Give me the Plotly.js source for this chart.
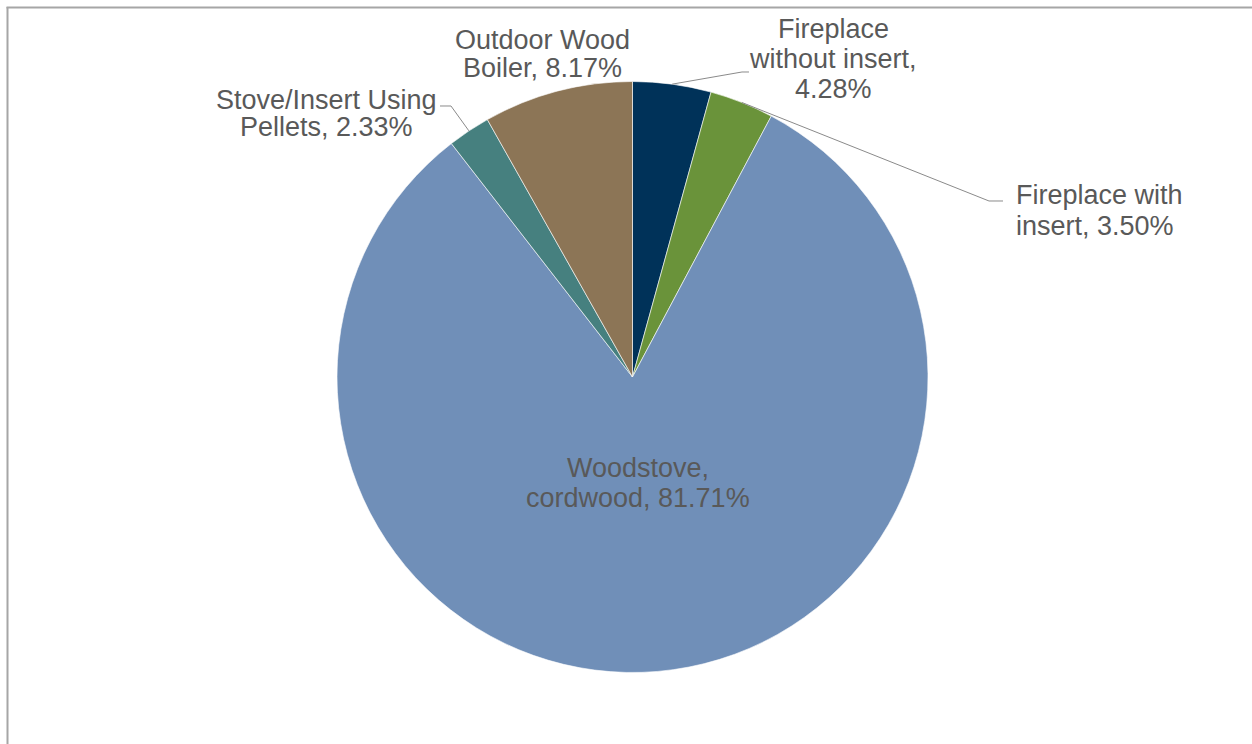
<!DOCTYPE html>
<html><head><meta charset="utf-8">
<script src="https://cdn.plot.ly/plotly-3.0.1.min.js"></script>
<style>html,body{margin:0;padding:0;background:#fff}#chart{width:1252px;height:744px}</style>
</head><body><div id="chart"></div>
<script>
const categories = ["Fireplace without insert", "Fireplace with insert", "Woodstove, cordwood", "Stove/Insert Using Pellets", "Outdoor Wood Boiler"];
const values = [4.28, 3.50, 81.71, 2.33, 8.17];
const labelLines = [
  ["Fireplace", "without insert,", "4.28%"],
  ["Fireplace with", "insert, 3.50%"],
  ["Woodstove,", "cordwood, 81.71%"],
  ["Stove/Insert Using", "Pellets, 2.33%"],
  ["Outdoor Wood", "Boiler, 8.17%"]
];
const colors = ["#003259", "#6a933a", "#708fb8", "#46807f", "#8c7556"];

const W = 1252, H = 744;
const cx = 632.5, cy = 377, r = 295.5;
const px = v => v / W, py = v => 1 - v / H;

// slice midpoint on rim, computed from data (clockwise from 12 o'clock)
const total = values.reduce((a, b) => a + b, 0);
let cum = 0;
const rim = values.map(v => {
  const mid = (cum + v / 2) / total * 2 * Math.PI;
  cum += v;
  return [cx + r * Math.sin(mid), cy - r * Math.cos(mid)];
});

const font = {family: "Liberation Sans, Arial, sans-serif", size: 27, color: "#595959"};
// label placement: x anchor and first-line center y, line step
const labelPos = [
  {x: 833, y: 29, step: 30, xanchor: "center"},
  {x: 1014, y: 195, step: 31, xanchor: "left"},
  {x: 638, y: 468, step: 29.5, xanchor: "center"},
  {x: 326, y: 99.5, step: 27.5, xanchor: "center"},
  {x: 542, y: 39.5, step: 29, xanchor: "center"}
];
const annotations = [];
labelLines.forEach((lines, i) => {
  const p = labelPos[i];
  lines.forEach((t, k) => {
    annotations.push({
      text: t, xref: "paper", yref: "paper", x: px(p.x), y: py(p.y + k * p.step),
      xanchor: p.xanchor, yanchor: "middle", align: p.xanchor === "left" ? "left" : "center",
      showarrow: false, font: font
    });
  });
});

// leader lines: text end -> knee -> slice rim
const leaders = [
  {idx: 0, pts: [[749, 72], [742, 72]]},
  {idx: 1, pts: [[1003, 201], [989, 201]]},
  {idx: 3, pts: [[440, 106], [451, 106]]}
];
const shapes = leaders.map(l => {
  const all = l.pts.concat([rim[l.idx]]);
  const path = all.map((p, k) => (k ? "L" : "M") + px(p[0]).toFixed(5) + "," + py(p[1]).toFixed(5)).join(" ");
  return {type: "path", xref: "paper", yref: "paper", path: path, line: {color: "#8a8a8a", width: 1}};
});
// frame
shapes.push({type: "line", xref: "paper", yref: "paper", x0: px(7.5), x1: px(7.5), y0: py(7), y1: 0, line: {color: "#a6a6a6", width: 2}});
shapes.push({type: "line", xref: "paper", yref: "paper", x0: px(6.5), x1: 1, y0: py(7.5), y1: py(7.5), line: {color: "#a6a6a6", width: 2}});

const data = [{
  type: "pie", labels: categories, values: values, sort: false, direction: "clockwise", rotation: 0,
  marker: {colors: colors, line: {color: "#ffffff", width: 0.6}},
  textinfo: "none", hoverinfo: "none",
  domain: {x: [px(cx - r), px(cx + r)], y: [py(cy + r), py(cy - r)]}
}];

const layout = {
  width: W, height: H, margin: {l: 0, r: 0, t: 0, b: 0},
  paper_bgcolor: "#ffffff", plot_bgcolor: "#ffffff",
  showlegend: false, annotations: annotations, shapes: shapes, hovermode: false
};
Plotly.newPlot("chart", data, layout, {displayModeBar: false, staticPlot: true});
</script></body></html>
